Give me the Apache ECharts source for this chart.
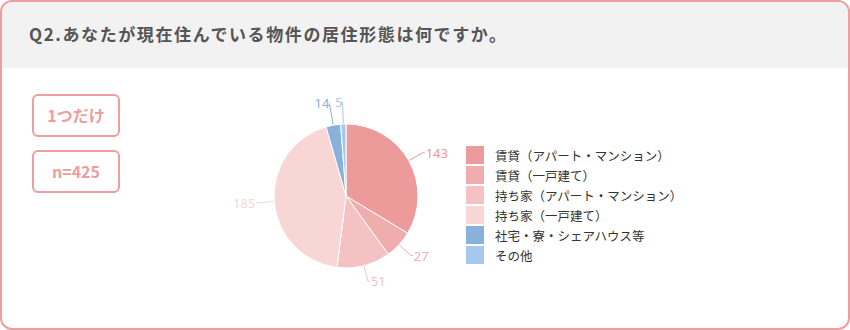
<!DOCTYPE html>
<html>
<head>
<meta charset="utf-8">
<script src="https://cdn.jsdelivr.net/npm/echarts@6/dist/echarts.min.js"></script>
<style>
  html, body { margin: 0; padding: 0; background: #fff; }
  body { width: 850px; height: 330px; position: relative; font-family: "Noto Sans CJK JP", sans-serif; }
  .card {
    position: absolute; left: 0; top: 0; width: 846px; height: 326px;
    border: 2px solid #ee9e9e; border-radius: 12px; overflow: hidden; background: #fff;
  }
  .head {
    height: 66px; background: #f2f2f2; color: #555;
    font-size: 17px; letter-spacing: 1.6px; font-weight: bold; line-height: 64px; padding-left: 27px;
  }
  .badge {
    position: absolute; left: 30px; width: 84px; height: 39px;
    border: 2px solid #ee9e9e; border-radius: 6px; color: #ee9e9e;
    font-size: 16px; font-weight: bold; text-align: center; line-height: 39px;
  }
  #chart { position: absolute; left: 0; top: 0; width: 850px; height: 330px; }
</style>
</head>
<body>
<div class="card">
  <div class="head">Q2.あなたが現在住んでいる物件の居住形態は何ですか。</div>
  <div class="badge" style="top: 92px;">1つだけ</div>
  <div class="badge" style="top: 148px;">n=425</div>
</div>
<div id="chart"></div>
<script>
  var categories = ['賃貸（アパート・マンション）', '賃貸（一戸建て）', '持ち家（アパート・マンション）', '持ち家（一戸建て）', '社宅・寮・シェアハウス等', 'その他'];
  var values = [143, 27, 51, 185, 14, 5];
  var colors = ['#ec9a9a', '#f0adad', '#f4c2c2', '#f8d6d6', '#88b2da', '#a5c8ec'];

  var chart = echarts.init(document.getElementById('chart'), null, { renderer: 'svg' });
  chart.setOption({
    animation: false,
    backgroundColor: 'transparent',
    legend: {
      orient: 'vertical',
      left: 466,
      top: 146,
      padding: 0,
      icon: 'rect',
      itemWidth: 18,
      itemHeight: 18,
      itemGap: 2,
      itemStyle: { borderWidth: 0 },
      selectedMode: false,
      textStyle: { color: '#333', fontSize: 12.5, lineHeight: 16, padding: [0, 0, 0, 6], fontFamily: 'Noto Sans CJK JP' },
      data: categories
    },
    series: [{
      type: 'pie',
      radius: 72,
      center: [346, 196],
      startAngle: 90,
      clockwise: true,
      avoidLabelOverlap: false,
      itemStyle: { borderColor: '#fff', borderWidth: 1 },
      label: {
        show: true,
        position: 'outside',
        formatter: '{c}',
        fontSize: 13,
        fontFamily: 'Noto Sans',
        distanceToLabelLine: 1
      },
      labelLine: { show: true, length: 16, length2: 2, lineStyle: { width: 1 } },
      data: categories.map(function(name, i) {
        var top = i >= 4;
        return {
          name: name,
          value: values[i],
          itemStyle: { color: colors[i] },
          label: { color: colors[i], distanceToLabelLine: top ? 0 : 1 },
          labelLine: { length: top ? 22 : 16, length2: top ? 0 : 2, lineStyle: { color: colors[i] } }
        };
      })
    }]
  });
</script>
</body>
</html>
